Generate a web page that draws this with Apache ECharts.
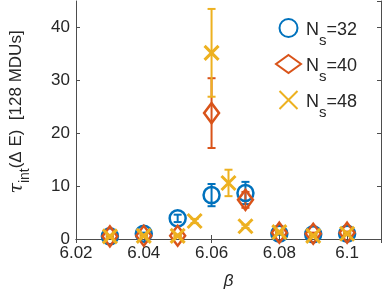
<!DOCTYPE html>
<html><head><meta charset="utf-8">
<script src="https://cdn.jsdelivr.net/npm/echarts@6/dist/echarts.min.js"></script>
<style>html,body{margin:0;padding:0;background:#fff}#c{width:382px;height:296px}</style>
</head><body><div id="c"></div>
<script>
const xTicks = [6.02, 6.04, 6.06, 6.08, 6.1];
const yTicks = [0, 10, 20, 30, 40];
const seriesNames = ['N_s=32', 'N_s=40', 'N_s=48'];
const beta32 = [6.03, 6.04, 6.05, 6.06, 6.07, 6.08, 6.09, 6.1];
const tau32  = [0.5, 1.0, 3.9, 8.3, 8.7, 1.0, 0.9, 1.0];
const err32  = [0.2, 0.2, 0.7, 2.1, 2.1, 0.2, 0.2, 0.2];
const beta40 = [6.03, 6.04, 6.05, 6.06, 6.07, 6.08, 6.09, 6.1];
const tau40  = [0.5, 0.6, 0.6, 23.8, 7.4, 1.2, 1.0, 1.2];
const err40  = [0.2, 0.2, 0.2, 6.6, 1.5, 0.2, 0.2, 0.2];
const beta48 = [6.03, 6.04, 6.05, 6.055, 6.06, 6.065, 6.07, 6.08, 6.09, 6.1];
const tau48  = [0.5, 0.6, 0.6, 3.4, 35.2, 10.6, 2.4, 1.3, 0.6, 1.0];
const err48  = [0.2, 0.2, 0.2, 0.4, 8.3, 2.5, 0.3, 0.2, 0.2, 0.2];

const colors = ['#0072BD', '#D95319', '#EDB120'];
const FONT = 'Liberation Sans, Arial, Helvetica, sans-serif';
const TXT = '#262626';

function errSeries(xs, ys, es, color) {
  return {
    type: 'custom', silent: true,
    data: xs.map((x, i) => [x, ys[i], es[i]]),
    renderItem: function (params, api) {
      const x = api.value(0), y = api.value(1), e = api.value(2);
      const top = api.coord([x, y + e]);
      const bot = api.coord([x, y - e]);
      const hw = 4;
      const st = { stroke: color, lineWidth: 2 };
      return { type: 'group', children: [
        { type: 'line', shape: { x1: top[0], y1: top[1], x2: bot[0], y2: bot[1] }, style: st },
        { type: 'line', shape: { x1: top[0] - hw, y1: top[1], x2: top[0] + hw, y2: top[1] }, style: st },
        { type: 'line', shape: { x1: bot[0] - hw, y1: bot[1], x2: bot[0] + hw, y2: bot[1] }, style: st }
      ]};
    },
    z: 2
  };
}
function markSeries(name, xs, ys, color, symbol, size, bw) {
  return {
    type: 'scatter', name: name,
    data: xs.map((x, i) => [x, ys[i]]),
    symbol: symbol, symbolSize: size,
    itemStyle: { color: 'rgba(0,0,0,0)', borderColor: color, borderWidth: bw, opacity: 1 },
    emphasis: { disabled: true },
    z: 3
  };
}
const xSym = 'path://M0,0L10,10M10,0L0,10';

const chart = echarts.init(document.getElementById('c'), null, { renderer: 'canvas' });
const axisLine = { show: true, lineStyle: { color: '#4d4d4d', width: 1 } };
const fmtX = v => {
  const r = Math.round(v * 100) / 100;
  return xTicks.some(t => Math.abs(t - r) < 1e-9) ? String(r) : '';
};
const fmtY = v => (yTicks.indexOf(Math.round(v)) >= 0 && Math.abs(v - Math.round(v)) < 1e-9) ? String(Math.round(v)) : '';

chart.setOption({
  animation: false,
  textStyle: { fontFamily: FONT },
  grid: { left: 65, top: 1, right: 1, bottom: 57 },
  legend: {
    orient: 'vertical', left: 270, top: 13, itemGap: 6,
    itemWidth: 25, itemHeight: 18,
    data: seriesNames,
    formatter: function (name) {
      const p = name.split('_s');
      return '{n|' + p[0] + '}{s|s}{n|' + p[1] + '}';
    },
    textStyle: {
      color: TXT, fontFamily: FONT, padding: [6, 0, 0, 0],
      rich: {
        n: { fontSize: 18, color: TXT, fontFamily: FONT, lineHeight: 20, verticalAlign: 'top' },
        s: { fontSize: 15, color: TXT, fontFamily: FONT, lineHeight: 16, verticalAlign: 'top', padding: [12, 0, 0, 0] }
      }
    }
  },
  xAxis: [{
    type: 'value', min: 6.02, max: 6.11, interval: 0.02,
    axisLine: axisLine, splitLine: { show: false },
    axisTick: { inside: true, length: 4, lineStyle: { color: '#4d4d4d' } },
    axisLabel: { formatter: fmtX, showMaxLabel: false, fontSize: 17, color: TXT, margin: 6, fontFamily: FONT },
    name: 'β', nameLocation: 'middle', nameGap: 34,
    nameTextStyle: { fontSize: 17, color: TXT, fontStyle: 'italic', fontFamily: FONT }
  }, {
    type: 'value', position: 'top', min: 6.02, max: 6.11, interval: 0.02,
    axisLine: axisLine, splitLine: { show: false },
    axisTick: { inside: true, length: 4, lineStyle: { color: '#4d4d4d' } },
    axisLabel: { show: false }
  }],
  yAxis: [{
    type: 'value', min: 0, max: 45, interval: 10,
    axisLine: axisLine, splitLine: { show: false },
    axisTick: { inside: true, length: 4, lineStyle: { color: '#4d4d4d' } },
    axisLabel: { formatter: fmtY, showMaxLabel: false, fontSize: 17, color: TXT, margin: 6, fontFamily: FONT },
    name: '{t|τ}{s|int}{n|(Δ E)  [128 MDUs]}',
    nameLocation: 'middle', nameGap: 48, nameRotate: 90,
    nameTextStyle: {
      color: TXT, fontFamily: FONT, padding: [0, 0, 0, 16],
      rich: {
        t: { fontSize: 19, color: TXT, fontStyle: 'italic', fontFamily: 'DejaVu Serif, serif', lineHeight: 20, verticalAlign: 'top' },
        s: { fontSize: 14, color: TXT, fontFamily: FONT, lineHeight: 14, verticalAlign: 'top', padding: [10, 0, 0, 0] },
        n: { fontSize: 17, color: TXT, fontFamily: FONT, lineHeight: 20, verticalAlign: 'top' }
      }
    }
  }, {
    type: 'value', position: 'right', min: 0, max: 45, interval: 10,
    axisLine: axisLine, splitLine: { show: false },
    axisTick: { inside: true, length: 4, lineStyle: { color: '#4d4d4d' } },
    axisLabel: { show: false }
  }],
  series: [
    errSeries(beta32, tau32, err32, colors[0]),
    markSeries(seriesNames[0], beta32, tau32, colors[0], 'circle', 16, 2.5),
    errSeries(beta40, tau40, err40, colors[1]),
    markSeries(seriesNames[1], beta40, tau40, colors[1], 'diamond', [15, 20], 2.5),
    errSeries(beta48, tau48, err48, colors[2]),
    markSeries(seriesNames[2], beta48, tau48, colors[2], xSym, 14, 3)
  ]
});
</script></body></html>
